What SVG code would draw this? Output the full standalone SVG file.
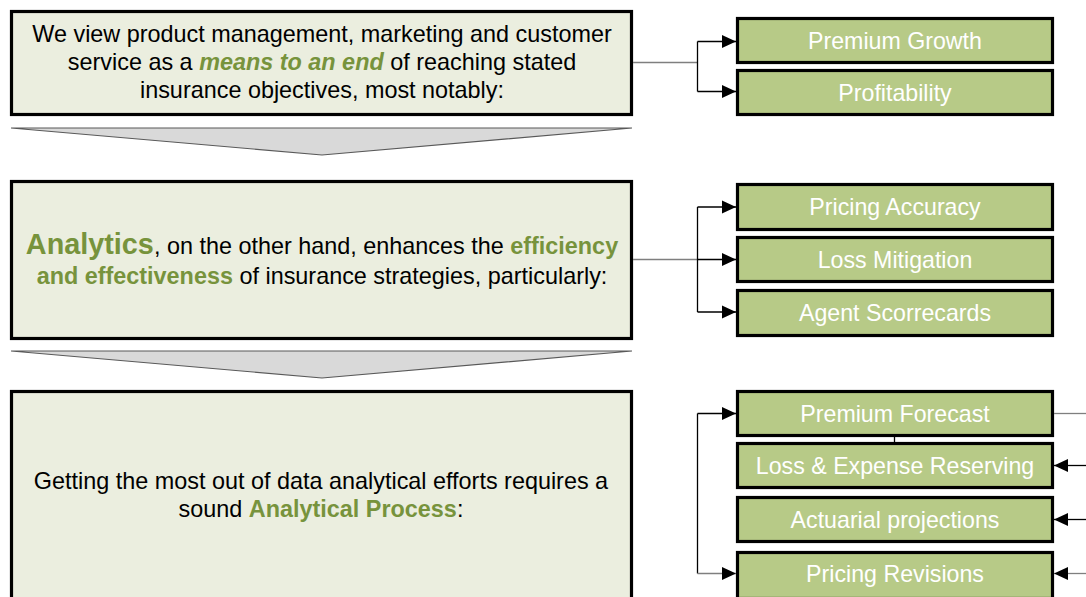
<svg xmlns="http://www.w3.org/2000/svg" width="1086" height="597" viewBox="0 0 1086 597">
<style>
.main{fill:#EBEEDF;stroke:#000;stroke-width:3.2}
.item{fill:#B7CA87;stroke:#000;stroke-width:3.2}
.chev{fill:#D9D9D9;stroke:#595959;stroke-width:1.2}
.t{font-family:"Liberation Sans",Arial,sans-serif;font-size:23.4px;fill:#000;text-anchor:middle}
.it{font-family:"Liberation Sans",Arial,sans-serif;font-size:23.2px;fill:#fff;text-anchor:middle}
.g{fill:#77933C;font-weight:bold}
.stem{stroke:#7F7F7F;stroke-width:1.3;fill:none}
.br{stroke:#000;stroke-width:1.3;fill:none}
</style>
<defs>
<marker id="ah" markerWidth="14" markerHeight="14" refX="14" refY="7" orient="auto" markerUnits="userSpaceOnUse">
<path d="M0,0.5 L14,7 L0,13.5 Z" fill="#000"/>
</marker>
</defs>
<rect width="1086" height="597" fill="#fff"/>

<g id="box1">
<rect class="main" x="11.5" y="11.5" width="620" height="103"/>
<text class="t" x="322" y="42">We view product management, marketing and customer</text>
<text class="t" x="322" y="70">service as a <tspan class="g" font-style="italic">means to an end</tspan> of reaching stated</text>
<text class="t" x="322" y="98">insurance objectives, most notably:</text>
</g>
<g id="chevron1"><polygon class="chev" points="11,128 632,128 322,155"/></g>

<g id="box2">
<rect class="main" x="11.5" y="181.5" width="620" height="157"/>
<text class="t" x="322" y="254"><tspan class="g" font-size="28.8">Analytics</tspan>, on the other hand, enhances the <tspan class="g">efficiency</tspan></text>
<text class="t" x="322" y="284"><tspan class="g">and effectiveness</tspan> of insurance strategies, particularly:</text>
</g>
<g id="chevron2"><polygon class="chev" points="11,351 632,351 322,378"/></g>

<g id="box3">
<rect class="main" x="11.5" y="391.5" width="620" height="230"/>
<text class="t" x="321" y="489">Getting the most out of data analytical efforts requires a</text>
<text class="t" x="321" y="517">sound <tspan class="g">Analytical Process</tspan>:</text>
</g>

<g id="premium-growth"><rect class="item" x="737.5" y="18.5" width="315" height="44"/><text class="it" x="895" y="48.5">Premium Growth</text></g>
<g id="profitability"><rect class="item" x="737.5" y="70.5" width="315" height="44"/><text class="it" x="895" y="100.5">Profitability</text></g>

<g id="pricing-accuracy"><rect class="item" x="737.5" y="184.5" width="315" height="45"/><text class="it" x="895" y="215">Pricing Accuracy</text></g>
<g id="loss-mitigation"><rect class="item" x="737.5" y="237.5" width="315" height="44"/><text class="it" x="895" y="267.5">Loss Mitigation</text></g>
<g id="agent-scorecards"><rect class="item" x="737.5" y="290.5" width="315" height="45"/><text class="it" x="895" y="321">Agent Scorrecards</text></g>

<g id="premium-forecast"><rect class="item" x="737.5" y="391.5" width="315" height="44"/><text class="it" x="895" y="421.5">Premium Forecast</text></g>
<g id="loss-expense"><rect class="item" x="737.5" y="443.5" width="315" height="44"/><text class="it" x="895" y="473.5">Loss &amp; Expense Reserving</text></g>
<g id="actuarial"><rect class="item" x="737.5" y="497.5" width="315" height="44"/><text class="it" x="895" y="527.5">Actuarial projections</text></g>
<g id="pricing-revisions"><rect class="item" x="737.5" y="552.5" width="315" height="46"/><text class="it" x="895" y="582">Pricing Revisions</text></g>

<g id="connectors">
<line class="stem" x1="633" y1="62.5" x2="697.5" y2="62.5"/>
<path class="br" d="M697.5,41.5 V91.5"/>
<line class="br" x1="697.5" y1="41.5" x2="736" y2="41.5" marker-end="url(#ah)"/>
<line class="br" x1="697.5" y1="91.5" x2="736" y2="91.5" marker-end="url(#ah)"/>

<line class="stem" x1="633" y1="259.5" x2="697.5" y2="259.5"/>
<path class="br" d="M697.5,207 V312"/>
<line class="br" x1="697.5" y1="207" x2="736" y2="207" marker-end="url(#ah)"/>
<line class="br" x1="697.5" y1="259.5" x2="736" y2="259.5" marker-end="url(#ah)"/>
<line class="br" x1="697.5" y1="312" x2="736" y2="312" marker-end="url(#ah)"/>

<path class="br" d="M697.5,413.5 V573.5"/>
<line class="br" x1="697.5" y1="413.5" x2="736" y2="413.5" marker-end="url(#ah)"/>
<line class="stem" x1="697.5" y1="573.5" x2="736" y2="573.5" marker-end="url(#ah)"/>
<line class="stem" x1="1054" y1="413.5" x2="1086" y2="413.5"/>
<line class="br" x1="894.5" y1="436" x2="894.5" y2="443"/>
<line class="br" x1="1086" y1="465.5" x2="1054" y2="465.5" marker-end="url(#ah)"/>
<line class="br" x1="1086" y1="519.5" x2="1054" y2="519.5" marker-end="url(#ah)"/>
<line class="stem" x1="1086" y1="573.5" x2="1054" y2="573.5" marker-end="url(#ah)"/>
</g>
</svg>
